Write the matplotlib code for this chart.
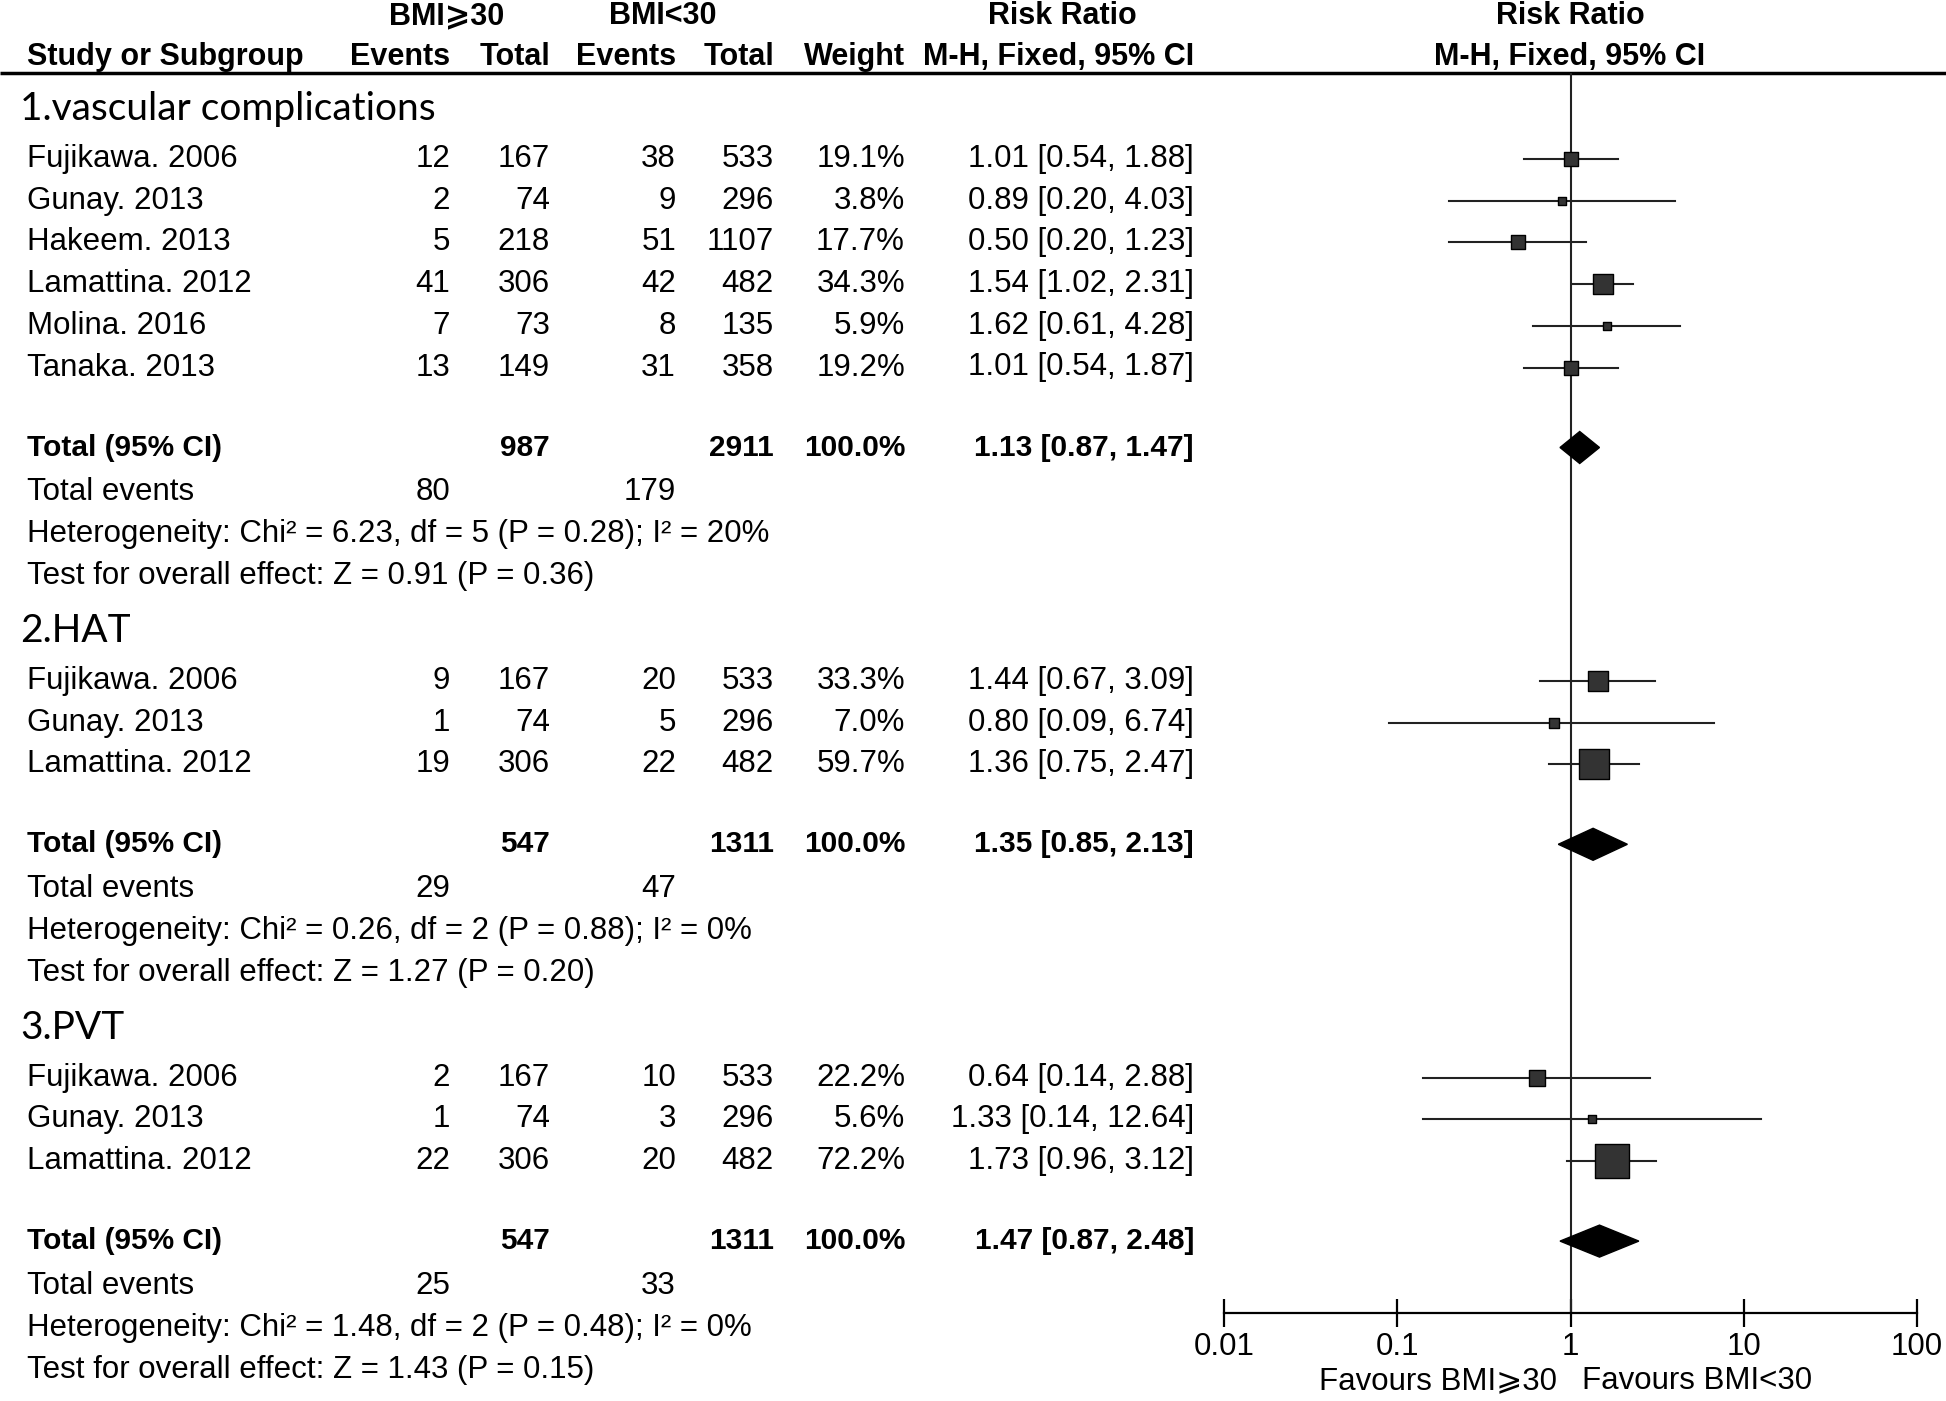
import numpy as np
import matplotlib
matplotlib.use("Agg")
import matplotlib.pyplot as plt
from matplotlib import font_manager

# --- данные ---
groups = ["1.vascular complications", "2.HAT", "3.PVT"]
studies = [
    ["Fujikawa. 2006", "Gunay. 2013", "Hakeem. 2013", "Lamattina. 2012", "Molina. 2016", "Tanaka. 2013"],
    ["Fujikawa. 2006", "Gunay. 2013", "Lamattina. 2012"],
    ["Fujikawa. 2006", "Gunay. 2013", "Lamattina. 2012"],
]
ev1 = [[12, 2, 5, 41, 7, 13], [9, 1, 19], [2, 1, 22]]
tot1 = [[167, 74, 218, 306, 73, 149], [167, 74, 306], [167, 74, 306]]
ev2 = [[38, 9, 51, 42, 8, 31], [20, 5, 22], [10, 3, 20]]
tot2 = [[533, 296, 1107, 482, 135, 358], [533, 296, 482], [533, 296, 482]]
weight = [[19.1, 3.8, 17.7, 34.3, 5.9, 19.2], [33.3, 7.0, 59.7], [22.2, 5.6, 72.2]]
rr = [[1.01, 0.89, 0.50, 1.54, 1.62, 1.01], [1.44, 0.80, 1.36], [0.64, 1.33, 1.73]]
lo = [[0.54, 0.20, 0.20, 1.02, 0.61, 0.54], [0.67, 0.09, 0.75], [0.14, 0.14, 0.96]]
hi = [[1.88, 4.03, 1.23, 2.31, 4.28, 1.87], [3.09, 6.74, 2.47], [2.88, 12.64, 3.12]]

tot_n1 = [987, 547, 547]
tot_n2 = [2911, 1311, 1311]
tot_ev1 = [80, 29, 25]
tot_ev2 = [179, 47, 33]
tot_rr = [1.13, 1.35, 1.47]
tot_lo = [0.87, 0.85, 0.87]
tot_hi = [1.47, 2.13, 2.48]
heterog = [
    "Heterogeneity: Chi² = 6.23, df = 5 (P = 0.28); I² = 20%",
    "Heterogeneity: Chi² = 0.26, df = 2 (P = 0.88); I² = 0%",
    "Heterogeneity: Chi² = 1.48, df = 2 (P = 0.48); I² = 0%",
]
overall = [
    "Test for overall effect: Z = 0.91 (P = 0.36)",
    "Test for overall effect: Z = 1.27 (P = 0.20)",
    "Test for overall effect: Z = 1.43 (P = 0.15)",
]
tick_vals = [0.01, 0.1, 1, 10, 100]
tick_labels = ["0.01", "0.1", "1", "10", "100"]

# --- шрифты ---
names = {f.name for f in font_manager.fontManager.ttflist}
narrow = "Liberation Sans Narrow" if "Liberation Sans Narrow" in names else "Liberation Sans"
body = ["Liberation Sans", "DejaVu Sans"]
head = [narrow, "DejaVu Sans"]
title_font = ["Lato", "DejaVu Sans"]
fs = 22.5
fs_bold = 21.5
fs_head = 22

W, H = 1946, 1401
fig = plt.figure(figsize=(W / 100, H / 100), dpi=100)
ax = fig.add_axes([0, 0, 1, 1])
ax.set_xlim(0, W)
ax.set_ylim(H, 0)
ax.axis("off")

# позиции колонок (правый край)
x_name = 27
x_ev1, x_tot1, x_ev2, x_tot2, x_w, x_ci = 450, 550, 676, 774, 905, 1194
x_rr_plot = 1570
y_axis, y_top = 1313, 73

# заголовок
ax.text(447, 16, "BMI⩾30", family=head, fontsize=fs_head, fontweight="bold", ha="center", va="center")
ax.text(663, 16, "BMI<30", family=head, fontsize=fs_head, fontweight="bold", ha="center", va="center")
ax.text(1062, 16, "Risk Ratio", family=head, fontsize=fs_head, fontweight="bold", ha="center", va="center")
ax.text(x_rr_plot, 16, "Risk Ratio", family=head, fontsize=fs_head, fontweight="bold", ha="center", va="center")
y_h = 57
ax.text(x_name, y_h, "Study or Subgroup", family=head, fontsize=fs_head, fontweight="bold", ha="left", va="center")
for xx, s in zip([x_ev1, x_tot1, x_ev2, x_tot2, x_w, x_ci],
                 ["Events", "Total", "Events", "Total", "Weight", "M-H, Fixed, 95% CI"]):
    ax.text(xx, y_h, s, family=head, fontsize=fs_head, fontweight="bold", ha="right", va="center")
ax.text(x_rr_plot, y_h, "M-H, Fixed, 95% CI", family=head, fontsize=fs_head, fontweight="bold", ha="center", va="center")
ax.plot([0, W], [y_top, y_top], color="black", lw=2.5, solid_capstyle="butt")

# ось для forest plot
axf = fig.add_axes([1224 / W, (H - y_axis) / H, (1917 - 1224) / W, (y_axis - y_top) / H])
axf.set_xscale("log")
axf.set_xlim(0.01, 100)
axf.set_ylim(y_axis, y_top)
axf.patch.set_alpha(0)
for sp in ["top", "left", "right"]:
    axf.spines[sp].set_visible(False)
axf.spines["bottom"].set_linewidth(1.6)
axf.set_yticks([])
axf.set_xticks(tick_vals)
axf.set_xticklabels(tick_labels, family=body, fontsize=fs)
axf.xaxis.set_minor_locator(matplotlib.ticker.NullLocator())
axf.tick_params(axis="x", direction="inout", length=20, width=1.6, pad=4)
axf.axvline(1, color="#222222", lw=1.5)

row = 41.7
y = 109
for g in range(len(groups)):
    ax.text(20, y, groups[g], family=title_font, fontsize=28, ha="left", va="center")
    y += 50
    for i, name in enumerate(studies[g]):
        ax.text(x_name, y, name, family=body, fontsize=fs, ha="left", va="center")
        ax.text(x_ev1, y, str(ev1[g][i]), family=body, fontsize=fs, ha="right", va="center")
        ax.text(x_tot1, y, str(tot1[g][i]), family=body, fontsize=fs, ha="right", va="center")
        ax.text(x_ev2, y, str(ev2[g][i]), family=body, fontsize=fs, ha="right", va="center")
        ax.text(x_tot2, y, str(tot2[g][i]), family=body, fontsize=fs, ha="right", va="center")
        ax.text(x_w, y, f"{weight[g][i]:.1f}%", family=body, fontsize=fs, ha="right", va="center")
        ax.text(x_ci, y, f"{rr[g][i]:.2f} [{lo[g][i]:.2f}, {hi[g][i]:.2f}]",
                family=body, fontsize=fs, ha="right", va="center")
        axf.plot([lo[g][i], hi[g][i]], [y, y], color="#222222", lw=1.5)
        side = (6.4 + 0.395 * weight[g][i]) * 0.72
        axf.scatter([rr[g][i]], [y], marker="s", s=side ** 2, color="#333333",
                    edgecolors="black", linewidths=1.0, zorder=3)
        y += row
    y += 80 - row
    # итог
    ax.text(x_name, y, "Total (95% CI)", family=body, fontsize=fs_bold, fontweight="bold", ha="left", va="center")
    ax.text(x_tot1, y, str(tot_n1[g]), family=body, fontsize=fs_bold, fontweight="bold", ha="right", va="center")
    ax.text(x_tot2, y, str(tot_n2[g]), family=body, fontsize=fs_bold, fontweight="bold", ha="right", va="center")
    ax.text(x_w, y, "100.0%", family=body, fontsize=fs_bold, fontweight="bold", ha="right", va="center")
    ax.text(x_ci, y, f"{tot_rr[g]:.2f} [{tot_lo[g]:.2f}, {tot_hi[g]:.2f}]",
            family=body, fontsize=fs_bold, fontweight="bold", ha="right", va="center")
    hh = 16
    axf.fill([tot_lo[g], tot_rr[g], tot_hi[g], tot_rr[g]], [y, y - hh, y, y + hh],
             color="black", zorder=3)
    y += 45
    ax.text(x_name, y, "Total events", family=body, fontsize=fs, ha="left", va="center")
    ax.text(x_ev1, y, str(tot_ev1[g]), family=body, fontsize=fs, ha="right", va="center")
    ax.text(x_ev2, y, str(tot_ev2[g]), family=body, fontsize=fs, ha="right", va="center")
    y += row
    ax.text(x_name, y, heterog[g], family=body, fontsize=fs, ha="left", va="center")
    y += row
    ax.text(x_name, y, overall[g], family=body, fontsize=fs, ha="left", va="center")
    y += 55

ax.text(1557, 1381, "Favours BMI⩾30", family=body, fontsize=fs, ha="right", va="center")
ax.text(1582, 1381, "Favours BMI<30", family=body, fontsize=fs, ha="left", va="center")

fig.savefig("out.png", dpi=100)
